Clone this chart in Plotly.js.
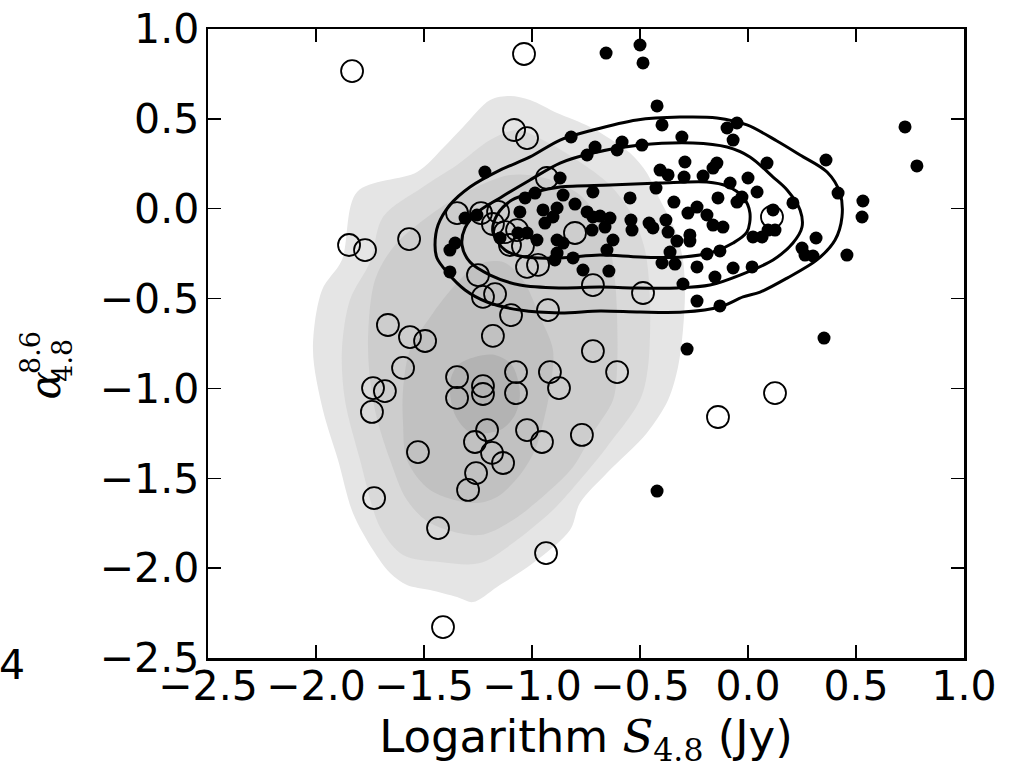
<!DOCTYPE html>
<html>
<head>
<meta charset="utf-8">
<script src="https://cdn.plot.ly/plotly-3.0.1.min.js"></script>
<style>html,body{margin:0;padding:0;background:#fff;}#chart{width:1017px;height:772px;}</style>
</head>
<body>
<div id="chart"></div>
<script>
// Open circles (sample A)
const openX = [-1.833,-1.037,-1.083,-1.023,-0.931,-1.347,-1.236,-1.157,-1.181,-1.125,-1.069,-1.102,-1.042,-1.847,-1.773,-1.569,-0.801,-1.023,-0.972,-1.250,-1.227,-1.171,-0.718,-0.926,-1.097,-0.486,0.111,-1.667,-1.565,-1.495,-1.181,-1.597,-1.736,-1.681,-1.741,-1.347,-1.347,-1.227,-1.227,-1.074,-1.074,-0.917,-0.875,-1.208,-1.264,-1.185,-1.134,-1.023,-0.954,-1.528,-1.259,-1.296,-0.769,-0.718,-0.606,-0.139,0.125,-1.731,-1.435,-0.935,-1.412];
const openY = [0.766,0.861,0.438,0.393,0.171,-0.024,-0.024,-0.018,-0.085,-0.130,-0.119,-0.202,-0.208,-0.202,-0.230,-0.169,-0.135,-0.324,-0.313,-0.369,-0.491,-0.475,-0.425,-0.564,-0.592,-0.469,-0.046,-0.647,-0.714,-0.736,-0.708,-0.886,-0.998,-1.015,-1.131,-0.937,-1.053,-0.987,-1.031,-0.909,-1.026,-0.909,-0.998,-1.232,-1.298,-1.359,-1.415,-1.232,-1.298,-1.354,-1.471,-1.565,-1.259,-0.792,-0.909,-1.159,-1.026,-1.610,-1.777,-1.916,-2.328];

// Filled dots (sample B)
const dotX = [-0.657,-0.500,-0.486,-0.421,-0.398,-0.097,-0.051,-0.069,-0.306,-0.819,-0.708,-0.745,-0.583,-0.606,-0.491,-0.292,-0.144,-0.162,-0.407,-0.370,-0.296,-0.208,-0.083,0.000,0.042,0.088,-0.870,-0.856,-0.718,-0.801,-0.546,-0.426,-0.343,-0.139,-0.051,-0.028,-0.236,0.116,0.727,0.782,0.361,0.417,0.532,0.528,0.208,0.065,0.315,0.250,0.264,0.301,0.458,0.352,-0.278,-0.190,-0.116,-0.162,-0.380,-0.458,-0.440,-0.542,-0.537,-0.639,-0.662,-0.370,-0.269,-0.269,-0.329,-0.625,-0.653,-0.361,-0.190,-0.130,0.023,0.093,0.125,-0.398,-0.338,-0.236,-0.069,0.019,-0.153,-0.644,-0.301,-0.236,-0.130,-1.218,-1.032,-0.986,-0.903,-0.884,-1.056,-0.745,-0.718,-0.685,-0.940,-0.722,-1.310,-1.255,-1.148,-1.065,-1.023,-0.977,-0.884,-0.856,-1.356,-1.380,-0.884,-0.894,-0.810,-0.764,-1.380,-0.282,-0.421,-0.949];
const dotY = [0.866,0.911,0.811,0.572,0.466,0.449,0.477,0.382,0.399,0.399,0.343,0.299,0.371,0.327,0.354,0.260,0.254,0.226,0.215,0.188,0.176,0.182,0.143,0.171,0.093,0.254,0.171,0.076,0.093,0.026,0.060,0.115,0.037,0.060,0.037,0.065,0.009,-0.007,0.455,0.238,0.271,0.087,0.043,-0.046,0.032,-0.157,-0.163,-0.219,-0.258,-0.263,-0.258,-0.720,-0.024,-0.035,-0.102,-0.091,-0.063,-0.080,-0.107,-0.063,-0.119,-0.052,-0.102,-0.130,-0.146,-0.180,-0.180,-0.174,-0.230,-0.241,-0.252,-0.235,-0.157,-0.119,-0.119,-0.302,-0.308,-0.324,-0.330,-0.324,-0.380,-0.347,-0.419,-0.514,-0.541,0.204,0.060,0.087,-0.046,0.004,-0.018,-0.018,-0.046,-0.041,-0.080,-0.119,-0.052,-0.035,-0.163,-0.135,-0.135,-0.174,-0.174,-0.191,-0.191,-0.230,-0.247,-0.285,-0.274,-0.341,-0.352,-0.781,-1.571,-0.007];

// Filled density levels of sample A (outer -> inner)
const shade1X = [-1.810,-1.532,-1.412,-1.319,-1.194,-1.102,-1.009,-0.884,-0.731,-0.546,-0.468,-0.407,-0.338,-0.301,-0.292,-0.301,-0.324,-0.370,-0.468,-0.653,-0.778,-0.824,-0.995,-1.162,-1.273,-1.347,-1.472,-1.579,-1.657,-1.736,-1.829,-1.898,-1.968,-2.014,-1.972,-1.880,-1.810];
const shade1Y = [0.093,0.204,0.338,0.455,0.605,0.627,0.605,0.533,0.455,0.310,0.199,0.048,-0.119,-0.285,-0.469,-0.675,-0.881,-1.065,-1.248,-1.471,-1.638,-1.788,-1.972,-2.105,-2.189,-2.161,-2.122,-2.094,-2.027,-1.899,-1.693,-1.398,-1.120,-0.786,-0.452,-0.285,0.093];
const shade2X = [-1.750,-1.690,-1.505,-1.347,-1.194,-1.069,-0.949,-0.792,-0.639,-0.537,-0.477,-0.454,-0.463,-0.500,-0.653,-0.778,-0.903,-1.088,-1.241,-1.426,-1.597,-1.704,-1.796,-1.866,-1.880,-1.843,-1.750];
const shade2Y = [-0.297,-0.046,0.121,0.243,0.382,0.438,0.382,0.271,0.132,-0.035,-0.230,-0.508,-0.881,-1.065,-1.326,-1.510,-1.677,-1.860,-1.972,-1.966,-1.927,-1.771,-1.398,-1.065,-0.786,-0.508,-0.297];
const shade3X = [-1.727,-1.634,-1.472,-1.287,-1.102,-0.940,-0.778,-0.662,-0.616,-0.606,-0.625,-0.718,-0.810,-0.931,-1.088,-1.241,-1.472,-1.579,-1.657,-1.727,-1.759,-1.727];
const shade3Y = [-0.397,-0.202,-0.035,0.104,0.188,0.171,0.076,-0.119,-0.397,-0.881,-1.065,-1.248,-1.437,-1.582,-1.732,-1.816,-1.749,-1.621,-1.398,-1.120,-0.786,-0.397];
const shade4X = [-1.458,-1.356,-1.255,-1.134,-1.042,-0.963,-0.903,-0.917,-0.949,-0.986,-1.056,-1.162,-1.273,-1.472,-1.579,-1.597,-1.597,-1.565,-1.458];
const shade4Y = [-0.580,-0.425,-0.313,-0.297,-0.397,-0.603,-0.786,-1.009,-1.193,-1.343,-1.482,-1.604,-1.638,-1.565,-1.398,-1.193,-1.009,-0.786,-0.580];
const shade5X = [-1.380,-1.343,-1.264,-1.171,-1.093,-1.056,-1.079,-1.148,-1.287,-1.356,-1.380];
const shade5Y = [-0.970,-0.870,-0.825,-0.814,-0.870,-1.026,-1.148,-1.232,-1.243,-1.148,-0.970];
const shadeColors = ['#e5e5e5','#d9d9d9','#cdcdcd','#c1c1c1','#b3b3b3'];

// Line contours of sample B (outer -> inner)
const ring1X = [-1.449,-1.435,-1.380,-1.287,-1.148,-1.009,-0.870,-0.718,-0.514,-0.315,-0.144,-0.005,0.134,0.241,0.366,0.426,0.435,0.403,0.319,0.181,0.056,-0.023,-0.130,-0.301,-0.500,-0.685,-0.870,-1.056,-1.208,-1.310,-1.394,-1.440,-1.449];
const ring1Y = [-0.202,-0.091,0.021,0.121,0.215,0.288,0.382,0.438,0.494,0.510,0.505,0.466,0.377,0.299,0.204,0.087,-0.046,-0.174,-0.285,-0.386,-0.464,-0.491,-0.547,-0.575,-0.575,-0.569,-0.580,-0.564,-0.519,-0.452,-0.352,-0.274,-0.202];
const ring2X = [-1.324,-1.310,-1.250,-1.148,-1.009,-0.870,-0.718,-0.500,-0.255,-0.097,0.009,0.116,0.181,0.241,0.250,0.208,0.116,-0.037,-0.176,-0.329,-0.532,-0.685,-0.870,-1.056,-1.194,-1.287,-1.324];
const ring2Y = [-0.202,-0.107,-0.018,0.060,0.160,0.254,0.310,0.354,0.366,0.343,0.288,0.176,0.104,-0.007,-0.102,-0.191,-0.285,-0.369,-0.425,-0.441,-0.441,-0.436,-0.441,-0.425,-0.369,-0.297,-0.202];
const ring3X = [-1.181,-1.162,-1.093,-0.986,-0.870,-0.639,-0.407,-0.190,-0.097,-0.023,0.009,-0.005,-0.069,-0.162,-0.301,-0.500,-0.685,-0.870,-1.032,-1.125,-1.181];
const ring3Y = [-0.130,-0.035,0.048,0.093,0.121,0.132,0.143,0.149,0.126,0.065,-0.024,-0.130,-0.191,-0.241,-0.269,-0.269,-0.258,-0.274,-0.269,-0.230,-0.130];

const tickVals = [-2.5,-2.0,-1.5,-1.0,-0.5,0.0,0.5,1.0];
const tickText = ['\u22122.5','\u22122.0','\u22121.5','\u22121.0','\u22120.5','0.0','0.5','1.0'];

const traces = [];
const shades = [[shade1X,shade1Y],[shade2X,shade2Y],[shade3X,shade3Y],[shade4X,shade4Y],[shade5X,shade5Y]];
shades.forEach((s,i)=>{
  traces.push({type:'scatter',mode:'lines',x:s[0],y:s[1],fill:'toself',fillcolor:shadeColors[i],
    line:{width:0,shape:'spline',smoothing:0.9,color:shadeColors[i]},hoverinfo:'skip'});
});
traces.push({type:'scatter',mode:'markers',x:openX,y:openY,
  marker:{symbol:'circle-open',size:22,color:'black',line:{width:1.8,color:'black'}},hoverinfo:'skip'});
[[ring1X,ring1Y],[ring2X,ring2Y],[ring3X,ring3Y]].forEach(r=>{
  traces.push({type:'scatter',mode:'lines',x:r[0],y:r[1],
    line:{width:3,color:'black',shape:'spline',smoothing:0.9},hoverinfo:'skip'});
});
traces.push({type:'scatter',mode:'markers',x:dotX,y:dotY,
  marker:{symbol:'circle',size:13,color:'black',line:{width:0}},hoverinfo:'skip'});

const axisCommon = {
  range:[-2.5,1.0], tickmode:'array', tickvals:tickVals, ticktext:tickText,
  ticks:'inside', ticklen:13, tickwidth:1.5, tickcolor:'black',
  mirror:'allticks', showline:true, linewidth:2.5, linecolor:'black',
  showgrid:false, zeroline:false,
  tickfont:{family:'DejaVu Sans', size:41, color:'black'}
};

const layout = {
  width:1017, height:772,
  margin:{l:208, r:53, t:29, b:114},
  paper_bgcolor:'white', plot_bgcolor:'white',
  showlegend:false, hovermode:false,
  xaxis:Object.assign({}, axisCommon, {
    ticklabelstandoff:-10,
    title:{text:'Logarithm <span style="font-family:DejaVu Serif"><i>S</i></span><sub><span style="font-family:DejaVu Serif">4.8</span></sub> (Jy)',
      font:{family:'DejaVu Sans', size:45, color:'black'}, standoff:0}
  }),
  yaxis:Object.assign({}, axisCommon, {ticklabelstandoff:-2}),
  annotations:[
    {xref:'paper',yref:'paper',x:-0.2150,y:0.4340,text:'<i>α</i>',showarrow:false,textangle:-90,
      font:{family:'DejaVu Serif',size:42,color:'black'},xanchor:'center',yanchor:'middle'},
    {xref:'paper',yref:'paper',x:-0.2340,y:0.4850,text:'8.6',showarrow:false,textangle:-90,
      font:{family:'DejaVu Serif',size:27,color:'black'},xanchor:'center',yanchor:'middle'},
    {xref:'paper',yref:'paper',x:-0.1920,y:0.4740,text:'4.8',showarrow:false,textangle:-90,
      font:{family:'DejaVu Serif',size:27,color:'black'},xanchor:'center',yanchor:'middle'},
    {xref:'paper',yref:'paper',x:-0.2593,y:-0.0111,text:'4',showarrow:false,
      font:{family:'DejaVu Sans',size:41,color:'black'},xanchor:'center',yanchor:'middle'}
  ]
};

Plotly.newPlot('chart', traces, layout, {displayModeBar:false, staticPlot:true});
</script>
</body>
</html>
